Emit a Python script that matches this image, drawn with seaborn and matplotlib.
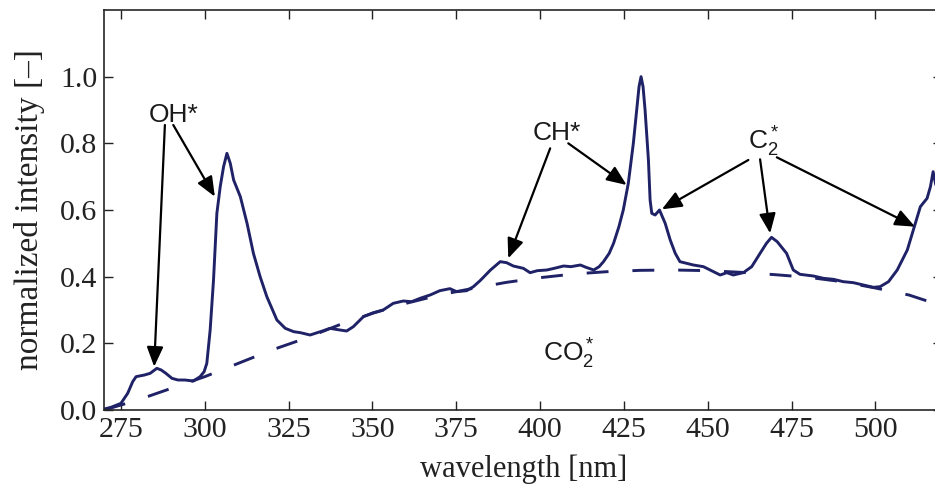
import matplotlib
matplotlib.use("Agg")
import matplotlib.pyplot as plt
import pandas as pd
import seaborn as sns

# ---- data ----
wavelength = [270.0, 272.0, 275.0, 277.0, 278.5, 279.5, 282.0, 283.7, 285.7, 287.0,
              288.4, 290.2, 292.0, 294.0, 296.6, 298.6, 299.8, 300.6, 301.6, 302.6,
              303.6, 304.6, 305.6, 306.6, 307.6, 308.6, 310.6, 312.6, 314.5, 316.5,
              318.5, 321.5, 324.0, 326.5, 328.5, 331.4, 335.4, 337.3, 340.3, 342.3,
              344.3, 347.3, 350.3, 353.2, 356.2, 359.2, 361.7, 364.2, 367.2, 370.1,
              373.1, 375.1, 378.1, 380.1, 382.1, 385.2, 388.1, 390.0, 392.0, 395.0,
              397.0, 399.2, 402.0, 404.2, 407.0, 409.2, 412.0, 413.7, 416.0, 417.6,
              418.9, 420.6, 421.9, 423.5, 424.8, 426.3, 427.8, 428.8, 429.5, 430.1,
              430.7, 431.3, 432.3, 432.8, 433.3, 434.3, 435.6, 437.3, 438.8, 440.3,
              441.7, 445.7, 448.7, 451.7, 453.7, 455.7, 457.6, 460.6, 463.1, 465.6,
              467.5, 469.0, 470.7, 473.5, 475.5, 477.5, 481.5, 484.5, 487.5, 490.4,
              493.4, 496.4, 499.4, 501.4, 503.9, 506.5, 509.5, 511.9, 513.4, 515.4,
              516.4, 517.2, 517.9, 519.0, 520.0]
intensity = [0.003, 0.008, 0.020, 0.050, 0.085, 0.100, 0.105, 0.110, 0.125, 0.120,
             0.110, 0.095, 0.090, 0.090, 0.087, 0.100, 0.115, 0.140, 0.240, 0.390,
             0.590, 0.670, 0.730, 0.770, 0.740, 0.690, 0.640, 0.560, 0.470, 0.400,
             0.340, 0.270, 0.245, 0.235, 0.232, 0.225, 0.238, 0.245, 0.240, 0.237,
             0.250, 0.280, 0.292, 0.300, 0.320, 0.327, 0.325, 0.335, 0.345, 0.358,
             0.364, 0.355, 0.358, 0.370, 0.388, 0.420, 0.445, 0.442, 0.432, 0.425,
             0.412, 0.418, 0.420, 0.425, 0.432, 0.430, 0.435, 0.428, 0.420, 0.430,
             0.445, 0.470, 0.500, 0.550, 0.600, 0.680, 0.800, 0.900, 0.970, 1.000,
             0.970, 0.900, 0.750, 0.630, 0.590, 0.585, 0.600, 0.560, 0.510, 0.470,
             0.445, 0.435, 0.430, 0.415, 0.405, 0.412, 0.405, 0.412, 0.430, 0.470,
             0.500, 0.518, 0.505, 0.470, 0.420, 0.407, 0.402, 0.395, 0.392, 0.385,
             0.382, 0.375, 0.368, 0.370, 0.385, 0.420, 0.480, 0.560, 0.610, 0.635,
             0.670, 0.715, 0.680, 0.640, 0.600]

base_wavelength = [270, 280, 290, 300, 310, 320, 330, 340, 350, 360, 370, 380, 390,
                   400, 410, 420, 430, 440, 450, 460, 470, 480, 490, 500, 510, 520]
base_intensity = [0.000, 0.030, 0.065, 0.100, 0.140, 0.180, 0.215, 0.255, 0.290, 0.320,
                  0.345, 0.365, 0.383, 0.397, 0.408, 0.415, 0.419, 0.420, 0.418, 0.413,
                  0.406, 0.398, 0.385, 0.366, 0.345, 0.312]

x_ticks = [275, 300, 325, 350, 375, 400, 425, 450, 475, 500]
y_ticks = [0.0, 0.2, 0.4, 0.6, 0.8, 1.0]
y_tick_labels = ["0.0", "0.2", "0.4", "0.6", "0.8", "1.0"]

spec_df = pd.DataFrame({"wavelength": wavelength, "intensity": intensity})
base_df = pd.DataFrame({"wavelength": base_wavelength, "intensity": base_intensity})

# ---- style ----
sns.set_theme(style="ticks")
plt.rcParams["font.family"] = ["Liberation Serif", "DejaVu Serif"]
plt.rcParams["mathtext.fontset"] = "custom"
plt.rcParams["mathtext.rm"] = "Liberation Sans"
plt.rcParams["mathtext.it"] = "Liberation Sans:italic"
plt.rcParams["mathtext.default"] = "rm"

NAVY = "#1f2266"
INK = "#1a1a1a"

fig = plt.figure(figsize=(9.35, 4.84), dpi=100)
ax = fig.add_axes([104.2 / 935, 74 / 484, 838.3 / 935, 400 / 484])

sns.lineplot(data=base_df, x="wavelength", y="intensity", ax=ax, color=NAVY,
             lw=2.1, linestyle=(0, (7.5, 8.2)), errorbar=None)
sns.lineplot(data=spec_df, x="wavelength", y="intensity", ax=ax, color=NAVY,
             lw=2.1, errorbar=None)

ax.set_xlim(270, 520)
ax.set_ylim(0, 1.2)
ax.set_xticks(x_ticks)
ax.set_xticklabels([str(t) for t in x_ticks])
ax.set_yticks(y_ticks)
ax.set_yticklabels(y_tick_labels)
ax.tick_params(direction="in", length=6.5, width=1.0, top=True, right=True,
               labelsize=21.5, colors="#222222", pad=5)
for s in ax.spines.values():
    s.set_linewidth(1.2)
    s.set_color("#262626")

ax.set_xlabel("wavelength [nm]", fontsize=22, color="#222222", labelpad=8)
ax.set_ylabel("normalized intensity [\u2013]", fontsize=24, color="#222222", labelpad=11)

# ---- annotations ----
sans = ["Liberation Sans", "DejaVu Sans"]
tfs = 19
ax.text(283.2, 0.865, "OH*", fontsize=tfs, family=sans, color=INK, ha="left", va="baseline")
ax.text(397.9, 0.81, "CH*", fontsize=tfs, family=sans, color=INK, ha="left", va="baseline")
ax.text(462.0, 0.78, r"C$_2^*$", fontsize=tfs, family=sans, color=INK, ha="left", va="baseline")
ax.text(401.0, 0.145, r"CO$_2^*$", fontsize=tfs, family=sans, color=INK, ha="left", va="baseline")

arrows = [
    ((288.1, 0.855), (284.9, 0.13)),
    ((290.6, 0.855), (303.0, 0.64)),
    ((403.0, 0.785), (390.5, 0.455)),
    ((408.4, 0.800), (425.8, 0.675)),
    ((462.1, 0.750), (436.3, 0.602)),
    ((465.6, 0.752), (468.6, 0.530)),
    ((470.6, 0.758), (511.8, 0.550)),
]
for start, tip in arrows:
    ax.annotate("", xy=tip, xytext=start, xycoords="data", textcoords="data",
                arrowprops=dict(arrowstyle="-|>,head_length=0.6,head_width=0.25",
                                color="black", lw=1.6, shrinkA=0, shrinkB=0,
                                mutation_scale=20))

fig.savefig("out.png", dpi=100)
